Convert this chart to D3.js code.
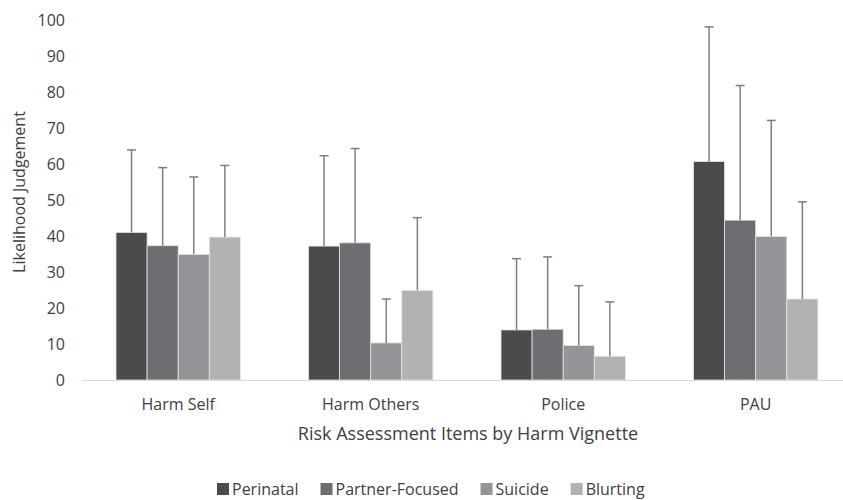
<!DOCTYPE html>
<html>
<head>
<meta charset="utf-8">
<script src="https://cdn.jsdelivr.net/npm/d3@7"></script>
<style>
  body { margin: 0; background: #fff; }
  text { font-family: "Open Sans", sans-serif; fill: #404040; }
</style>
</head>
<body>
<svg id="chart" width="843" height="500"></svg>
<script>
// data
var categories = ["Harm Self", "Harm Others", "Police", "PAU"];
var seriesNames = ["Perinatal", "Partner-Focused", "Suicide", "Blurting"];
var means = [
  [41.0, 37.3, 34.9, 39.7],
  [37.2, 38.1, 10.3, 24.9],
  [13.9, 14.1, 9.6, 6.6],
  [60.7, 44.4, 39.9, 22.5]
];
var upper = [
  [63.9, 59.0, 56.4, 59.6],
  [62.3, 64.3, 22.5, 45.1],
  [33.7, 34.2, 26.2, 21.7],
  [98.1, 81.8, 72.1, 49.5]
];
var yTicks = [0, 10, 20, 30, 40, 50, 60, 70, 80, 90, 100];
var colors = ["#4a4b4d", "#6d6e71", "#939598", "#b1b2b4"];

var svg = d3.select("#chart");

var x = d3.scaleBand().domain(categories).range([82, 852]).paddingInner(0).paddingOuter(0);
var inner = d3.scaleBand().domain(seriesNames).range([34, 158.4]);
var y = d3.scaleLinear().domain([0, 100]).range([380, 20]);
var color = d3.scaleOrdinal(seriesNames, colors);

// y tick labels (no axis line in the reference)
var yAxis = svg.append("g").attr("transform", "translate(82,0)")
  .call(d3.axisLeft(y).tickValues(yTicks).tickSize(0).tickPadding(17));
yAxis.select(".domain").remove();
yAxis.selectAll("text").style("font-size", "16px").attr("fill", "#404040");

// bars
var groups = svg.append("g").selectAll("g")
  .data(categories)
  .enter().append("g")
    .attr("transform", function(d) { return "translate(" + x(d) + ",0)"; });

groups.selectAll("rect")
  .data(function(d, i) { return seriesNames.map(function(s, j) { return { s: s, v: means[i][j], hi: upper[i][j] }; }); })
  .enter().append("rect")
    .attr("x", function(d) { return inner(d.s); })
    .attr("y", function(d) { return y(d.v); })
    .attr("width", inner.bandwidth())
    .attr("height", function(d) { return y(0) - y(d.v); })
    .attr("fill", function(d) { return color(d.s); })
    .attr("stroke", "#e6e6e6")
    .attr("stroke-width", 0.8);

// error bars (upper only)
var err = groups.selectAll("g.err")
  .data(function(d, i) { return seriesNames.map(function(s, j) { return { s: s, v: means[i][j], hi: upper[i][j] }; }); })
  .enter().append("g").attr("class", "err");

err.append("line")
  .attr("x1", function(d) { return inner(d.s) + inner.bandwidth() / 2; })
  .attr("x2", function(d) { return inner(d.s) + inner.bandwidth() / 2; })
  .attr("y1", function(d) { return y(d.v); })
  .attr("y2", function(d) { return y(d.hi); })
  .attr("stroke", "#7f7f7f").attr("stroke-width", 1.5);

err.append("line")
  .attr("x1", function(d) { return inner(d.s) + inner.bandwidth() / 2 - 4.5; })
  .attr("x2", function(d) { return inner(d.s) + inner.bandwidth() / 2 + 4.5; })
  .attr("y1", function(d) { return y(d.hi); })
  .attr("y2", function(d) { return y(d.hi); })
  .attr("stroke", "#7f7f7f").attr("stroke-width", 1.5);

// x axis
svg.append("line")
  .attr("x1", 82).attr("x2", 843)
  .attr("y1", y(0) + 0.5).attr("y2", y(0) + 0.5)
  .attr("stroke", "#d9d9d9").attr("stroke-width", 1);

svg.append("g").selectAll("text")
  .data(categories)
  .enter().append("text")
    .attr("x", function(d) { return x(d) + 96.2; })
    .attr("y", 410)
    .attr("text-anchor", "middle")
    .style("font-size", "16px")
    .text(function(d) { return d; });

// axis titles
svg.append("text")
  .attr("x", 468).attr("y", 440)
  .attr("text-anchor", "middle")
  .style("font-size", "18px")
  .text("Risk Assessment Items by Harm Vignette");

svg.append("text")
  .attr("transform", "translate(25,192) rotate(-90)")
  .attr("text-anchor", "middle")
  .style("font-size", "16px")
  .text("Likelihood Judgement");

// legend
var legend = svg.append("g").attr("transform", "translate(217,489)");
var lx = 0;
seriesNames.forEach(function(s) {
  var item = legend.append("g").attr("transform", "translate(" + lx + ",0)");
  item.append("rect").attr("x", 0).attr("y", -6).attr("width", 12).attr("height", 12).attr("fill", color(s));
  var t = item.append("text").attr("x", 15).attr("y", 6).style("font-size", "16px").text(s);
  lx += 15 + t.node().getComputedTextLength() + 22;
});
</script>
</body>
</html>
